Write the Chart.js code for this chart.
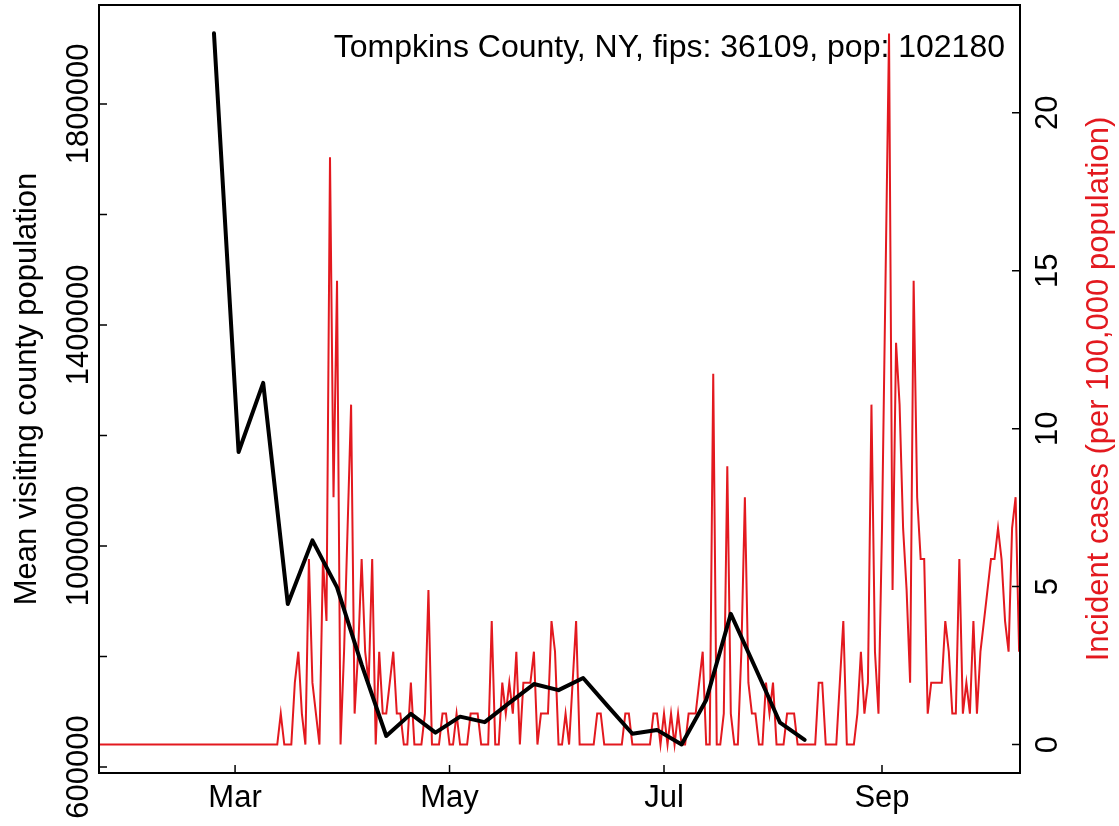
<!DOCTYPE html>
<html>
<head>
<meta charset="utf-8">
<title>Tompkins County</title>
<script src="https://cdn.jsdelivr.net/npm/chart.js@4.4.1/dist/chart.umd.min.js"></script>
<style>
  html, body { margin: 0; padding: 0; background: #fff; }
  #wrap { width: 1119px; height: 826px; }
</style>
</head>
<body>
<div id="wrap"><canvas id="myChart" width="1119" height="826"></canvas></div>
<script>
// x positions are day of year 2020 (0 = Jan 1)
var monthDays = [60, 121, 182, 244];
var monthLabels = ["Mar", "May", "Jul", "Sep"];

// weekly mean visiting county population (black line)
var visitDays = [54, 61, 68, 75, 82, 89, 96, 103, 110, 117, 124, 131, 138, 145, 152, 159, 166, 173, 180, 187, 194, 201, 208, 215, 222];
var visitPop = [1927700, 1170000, 1295000, 895000, 1010000, 925000, 785000, 656000, 696000, 662000, 691000, 681000, 716000, 750000, 739000, 761000, 710000, 660000, 667000, 640600, 721000, 877000, 779000, 680000, 649000];

// daily incident cases per 100,000 (red line), first value is day 21
var caseFirstDay = 21;
var incidence = [
  0,0,0,0,0,0,0,0,0,0, 0,0,0,0,0,0,0,0,0,0,
  0,0,0,0,0,0,0,0,0,0, 0,0,0,0,0,0,0,0,0,0,
  0,0,0,0,0,0,0,0,0,0, 0,0,
  0.98,0,0,0,1.96,2.94,0.98,0,5.87,1.96,
  0.98,0,5.87,3.91,18.59,7.83,14.68,0,2.94,6.85,
  10.76,0.98,2.94,5.87,2.94,1.96,5.87,0,2.94,0.98,
  0.98,1.96,2.94,0.98,0.98,0,0,1.96,0,0,
  0,0.98,4.89,0,0,0,0.98,0.98,0,0,
  0.98,0,0,0,0.98,0.98,0.98,0,0,0,
  3.91,0,0,1.96,0.98,1.96,0.98,2.94,0,1.96,
  1.96,1.96,2.94,0,0.98,0.98,0.98,3.91,2.94,0,
  0,0.98,0,1.96,3.91,0,0,0,0,0,
  0.98,0.98,0,0,0,0,0,0,0.98,0.98,
  0,0,0,0,0,0,0.98,0.98,0,0.98,
  0,0.98,0,0.98,0,0,0.98,0.98,0.98,1.96,
  2.94,0,0,11.74,0,0,0.98,8.81,0.98,0,
  0,2.94,7.83,1.96,0.98,0.98,0,0,1.96,0.98,
  1.96,0,0,0,0.98,0.98,0.98,0,0,0,
  0,0,0,1.96,1.96,0,0,0,0,1.96,
  3.91,0,0,0,0.98,2.94,0.98,1.96,10.76,2.94,
  0.98,6.85,14.68,22.51,4.89,12.72,10.76,6.85,4.89,1.96,
  14.68,7.83,5.87,5.87,0.98,1.96,1.96,1.96,1.96,3.91,
  2.94,0.98,0.98,5.87,0.98,1.96,0.98,3.91,0.98,2.94,
  3.91,4.89,5.87,5.87,6.85,5.87,3.91,2.94,6.85,7.83,
  2.94
];

// axis ticks
var popTicks = [600000, 800000, 1000000, 1200000, 1400000, 1600000, 1800000];
var popTickLabels = ["600000", "", "1000000", "", "1400000", "", "1800000"];
var caseTicks = [0, 5, 10, 15, 20];

var titleText = "Tompkins County, NY, fips: 36109, pop: 102180";
var FONT = "'Liberation Sans', Arial, Helvetica, sans-serif";
var RED = "#e3191f";

var visitPoints = visitDays.map(function (d, i) { return { x: d, y: visitPop[i] }; });
var casePoints = incidence.map(function (v, i) { return { x: caseFirstDay + i, y: v }; });

// R-like frame: box, inward ticks, rotated y labels, axis titles and the title text
var rFrame = {
  id: 'rFrame',
  afterDraw: function (chart) {
    var ctx = chart.ctx, a = chart.chartArea;
    var sx = chart.scales.x, sy = chart.scales.y, sr = chart.scales.y2;
    ctx.save();
    ctx.strokeStyle = '#000';
    ctx.lineWidth = 2;
    ctx.strokeRect(a.left, a.top, a.right - a.left, a.bottom - a.top);

    ctx.lineWidth = 1.5;
    ctx.beginPath();
    sx.ticks.forEach(function (t) {
      var px = sx.getPixelForValue(t.value);
      ctx.moveTo(px, a.bottom); ctx.lineTo(px, a.bottom - 8);
    });
    sy.ticks.forEach(function (t) {
      var py = sy.getPixelForValue(t.value);
      ctx.moveTo(a.left, py); ctx.lineTo(a.left + 8, py);
    });
    sr.ticks.forEach(function (t) {
      var py = sr.getPixelForValue(t.value);
      ctx.moveTo(a.right, py); ctx.lineTo(a.right - 8, py);
    });
    ctx.stroke();

    function vText(txt, x, y, color) {
      ctx.save();
      ctx.translate(x, y);
      ctx.rotate(-Math.PI / 2);
      ctx.fillStyle = color;
      ctx.textAlign = 'center';
      ctx.textBaseline = 'alphabetic';
      ctx.fillText(txt, 0, 0);
      ctx.restore();
    }

    ctx.font = '31px ' + FONT;
    sy.ticks.forEach(function (t) {
      if (t.label) vText(t.label, a.left - 11, sy.getPixelForValue(t.value), '#000');
    });
    sr.ticks.forEach(function (t) {
      vText(String(t.label), a.right + 37, sr.getPixelForValue(t.value), '#000');
    });

    var midY = (a.top + a.bottom) / 2;
    vText('Mean visiting county population', 36, midY, '#000');
    vText('Incident cases (per 100,000 population)', 1108, midY, RED);

    ctx.font = '32px ' + FONT;
    ctx.fillStyle = '#000';
    ctx.textAlign = 'right';
    ctx.textBaseline = 'alphabetic';
    ctx.fillText(titleText, 1005, 57);
    ctx.restore();
  }
};

Chart.defaults.font.family = FONT;

var ctx = document.getElementById("myChart");
var myChart = new Chart(ctx, {
  type: 'line',
  data: {
    datasets: [
      {
        label: "Mean visiting county population",
        data: visitPoints,
        yAxisID: 'y',
        borderColor: "#000",
        borderWidth: 4,
        borderJoinStyle: 'round',
        borderCapStyle: 'round',
        pointRadius: 0,
        tension: 0,
        fill: false,
        order: 0
      },
      {
        label: "Incident cases",
        data: casePoints,
        yAxisID: 'y2',
        borderColor: RED,
        borderWidth: 2,
        pointRadius: 0,
        tension: 0,
        fill: false,
        clip: 0,
        order: 1
      }
    ]
  },
  options: {
    responsive: false,
    animation: false,
    devicePixelRatio: 1,
    layout: { padding: { top: 5, left: 0, right: 0, bottom: 0 } },
    plugins: { legend: { display: false }, tooltip: { enabled: false }, title: { display: false } },
    scales: {
      x: {
        type: 'linear',
        min: 21.3,
        max: 283.25,
        grid: { display: false, drawTicks: false },
        border: { display: false },
        afterBuildTicks: function (s) { s.ticks = monthDays.map(function (v) { return { value: v }; }); },
        afterFit: function (s) { s.height = 53; },
        ticks: {
          autoSkip: false,
          maxRotation: 0,
          padding: 7,
          color: '#000',
          font: { size: 31 },
          callback: function (v) { return monthLabels[monthDays.indexOf(v)]; }
        }
      },
      y: {
        type: 'linear',
        position: 'left',
        min: 589000,
        max: 1979000,
        grid: { display: false, drawTicks: false },
        border: { display: false },
        afterBuildTicks: function (s) { s.ticks = popTicks.map(function (v) { return { value: v }; }); },
        afterFit: function (s) { s.width = 99; },
        ticks: {
          display: false,
          autoSkip: false,
          callback: function (v) { return popTickLabels[popTicks.indexOf(v)]; }
        }
      },
      y2: {
        type: 'linear',
        position: 'right',
        min: -0.9,
        max: 23.41,
        grid: { display: false, drawTicks: false },
        border: { display: false },
        afterBuildTicks: function (s) { s.ticks = caseTicks.map(function (v) { return { value: v }; }); },
        afterFit: function (s) { s.width = 99; },
        ticks: {
          display: false,
          autoSkip: false,
          callback: function (v) { return String(v); }
        }
      }
    }
  },
  plugins: [rFrame]
});
</script>
</body>
</html>
